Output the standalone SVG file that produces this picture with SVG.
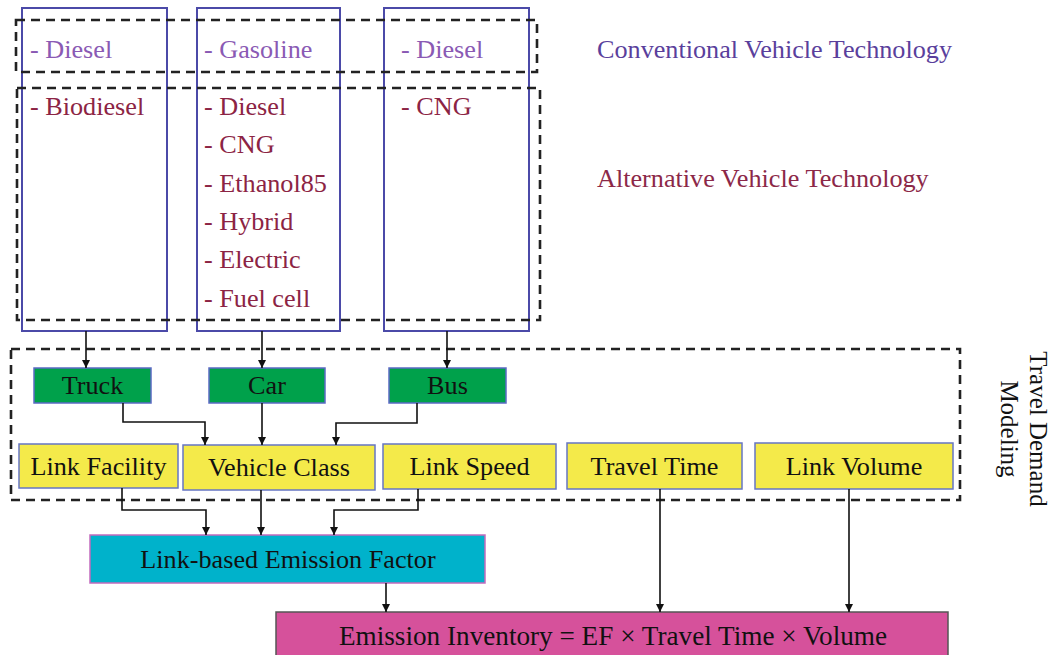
<svg xmlns="http://www.w3.org/2000/svg" width="1053" height="655" viewBox="0 0 1053 655" font-family="'Liberation Serif', 'DejaVu Serif', serif">
<defs>
<marker id="ah" viewBox="0 0 10 10" refX="10" refY="5" markerWidth="8" markerHeight="8" markerUnits="userSpaceOnUse" orient="auto">
<path d="M0,0 L10,5 L0,10 z" fill="#111"/>
</marker>
<style>
text{font-family:'Liberation Serif','DejaVu Serif',serif;font-size:26.2px}
.tech{fill:none;stroke:#4b4aa8;stroke-width:2}
.dash{fill:none;stroke:#222;stroke-width:2.6;stroke-dasharray:9 6}
.conv{fill:#8a5ab4}
.alt{fill:#8c2444}
.convT{fill:#5a3f9c}
.altT{fill:#8c2848}
.green{fill:#00a14b;stroke:#5b6ac4;stroke-width:1.5}
.yellow{fill:#f4ea4a;stroke:#6676c4;stroke-width:1.5}
.cyan{fill:#00b2cb;stroke:#c26bbd;stroke-width:1.5}
.mag{fill:#d6519b;stroke:#555;stroke-width:1.5}
.lbl{fill:#111;text-anchor:middle}
.side{font-size:25px}
.conn path{fill:none;stroke:#111;stroke-width:1.6;marker-end:url(#ah)}
</style>
</defs>
<rect width="1053" height="655" fill="#fff"/>

<g id="technology-boxes">
<rect class="tech" x="22" y="8" width="145" height="323"/>
<rect class="tech" x="197" y="8" width="143" height="323"/>
<rect class="tech" x="384" y="8" width="145" height="323"/>
</g>

<g id="conventional-group">
<rect class="dash" x="16" y="20" width="521" height="52"/>
<text class="conv" x="30" y="58">- Diesel</text>
<text class="conv" x="204" y="58">- Gasoline</text>
<text class="conv" x="401" y="58">- Diesel</text>
<text class="convT" x="597" y="58">Conventional Vehicle Technology</text>
</g>

<g id="alternative-group">
<rect class="dash" x="17" y="88" width="523" height="232"/>
<text class="alt" x="30" y="115">- Biodiesel</text>
<text class="alt" x="204" y="115">- Diesel</text>
<text class="alt" x="204" y="153">- CNG</text>
<text class="alt" x="204" y="192">- Ethanol85</text>
<text class="alt" x="204" y="230">- Hybrid</text>
<text class="alt" x="204" y="268">- Electric</text>
<text class="alt" x="204" y="307">- Fuel cell</text>
<text class="alt" x="401" y="115">- CNG</text>
<text class="altT" x="597" y="187">Alternative Vehicle Technology</text>
</g>

<g id="travel-demand-modeling">
<rect class="dash" x="11" y="349" width="949" height="151"/>
<text class="lbl side" transform="translate(1030,429) rotate(90)">Travel Demand</text>
<text class="lbl side" transform="translate(1001,429) rotate(90)">Modeling</text>
</g>

<g id="truck"><rect class="green" x="34" y="368" width="117" height="35"/><text class="lbl" x="92.5" y="394">Truck</text></g>
<g id="car"><rect class="green" x="209" y="368" width="116" height="35"/><text class="lbl" x="267" y="394">Car</text></g>
<g id="bus"><rect class="green" x="389" y="368" width="117" height="35"/><text class="lbl" x="447.5" y="394">Bus</text></g>

<g id="link-facility"><rect class="yellow" x="19" y="444" width="159" height="44"/><text class="lbl" x="98.5" y="475">Link Facility</text></g>
<g id="vehicle-class"><rect class="yellow" x="183" y="445" width="192" height="45"/><text class="lbl" x="279" y="476">Vehicle Class</text></g>
<g id="link-speed"><rect class="yellow" x="383" y="444" width="173" height="45"/><text class="lbl" x="469.5" y="475">Link Speed</text></g>
<g id="travel-time"><rect class="yellow" x="567" y="443" width="175" height="46"/><text class="lbl" x="654.5" y="475">Travel Time</text></g>
<g id="link-volume"><rect class="yellow" x="755" y="443" width="198" height="46"/><text class="lbl" x="854" y="475">Link Volume</text></g>

<g id="emission-factor"><rect class="cyan" x="90" y="535" width="395" height="48"/><text class="lbl" x="288" y="568">Link-based Emission Factor</text></g>

<g id="emission-inventory"><rect class="mag" x="276" y="612" width="672" height="60"/><text class="lbl" x="613" y="645" style="font-size:27.2px">Emission Inventory = EF × Travel Time × Volume</text></g>

<g id="connectors" class="conn">
<path d="M86 331 V368"/>
<path d="M262 331 V368"/>
<path d="M447 331 V368"/>
<path d="M123 403 V422 H205 V445"/>
<path d="M262 403 V445"/>
<path d="M417 403 V423 H336 V445"/>
<path d="M122 488 V510 H206 V535"/>
<path d="M261 490 V535"/>
<path d="M418 489 V510 H334 V535"/>
<path d="M660 489 V612"/>
<path d="M849 489 V612"/>
<path d="M386 583 V612"/>
</g>
</svg>
